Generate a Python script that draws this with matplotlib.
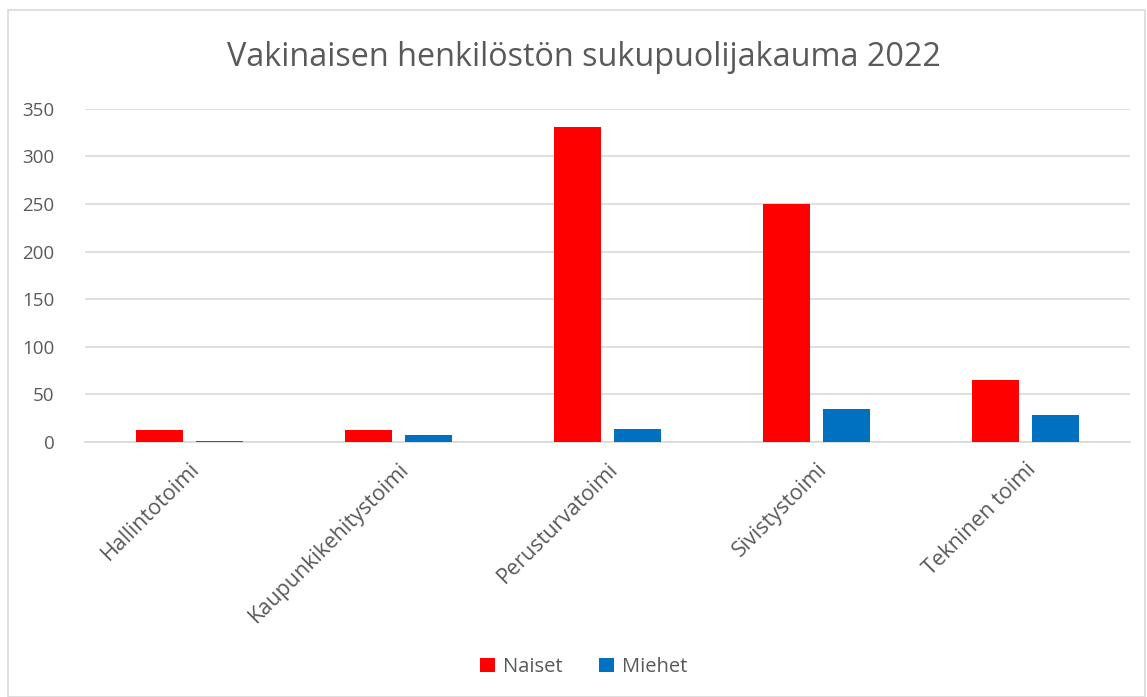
import numpy as np
import matplotlib.pyplot as plt
from matplotlib.patches import Rectangle

plt.rcParams['font.family'] = ['Open Sans', 'DejaVu Sans']

categories = ['Hallintotoimi', 'Kaupunkikehitystoimi', 'Perusturvatoimi',
              'Sivistystoimi', 'Tekninen toimi']
naiset = [13, 12, 331, 250, 65]
miehet = [1, 7, 14, 35, 28]

text_color = '#595959'
grid_color = '#d9d9d9'

fig = plt.figure(figsize=(11.47, 6.97), dpi=100)
ax = fig.add_axes([0.074, 0.366, 0.911, 0.478])

# outer chart border
fig.patches.append(Rectangle((0.007, 0.0), 0.991, 0.985, transform=fig.transFigure,
                             fill=False, edgecolor=grid_color, linewidth=1.2))

x = np.arange(len(categories))
w = 0.225
ax.bar(x - 0.143, naiset, w, color='#ff0000', label='Naiset', zorder=3)
ax.bar(x + 0.143, miehet, w, color='#0070c0', label='Miehet', zorder=3)

ax.set_xlim(-0.5, len(categories) - 0.5)
ax.set_ylim(0, 350)
ax.set_yticks(range(0, 351, 50))
ax.yaxis.grid(True, color=grid_color, linewidth=1.2, zorder=0)
ax.set_axisbelow(True)

for s in ['top', 'right', 'left']:
    ax.spines[s].set_visible(False)
ax.spines['bottom'].set_color(grid_color)
ax.spines['bottom'].set_linewidth(1.2)

ax.tick_params(axis='both', length=0, colors=text_color)
ax.tick_params(axis='y', pad=22, labelsize=13.5)
ax.tick_params(axis='x', pad=12, labelsize=15.5)
ax.set_xticks(x)
ax.set_xticklabels(categories, rotation=45, ha='right', rotation_mode='anchor')

fig.text(0.509, 0.918, 'Vakinaisen henkilöstön sukupuolijakauma 2022',
         ha='center', va='center', fontsize=23.3, color=text_color)

fig.legend(loc='center', bbox_to_anchor=(0.509, 0.043), ncol=2, frameon=False,
           fontsize=14.5, labelcolor=text_color, handlelength=0.75, handleheight=0.75,
           columnspacing=1.8, handletextpad=0.4)

fig.savefig('out.png', dpi=100)
